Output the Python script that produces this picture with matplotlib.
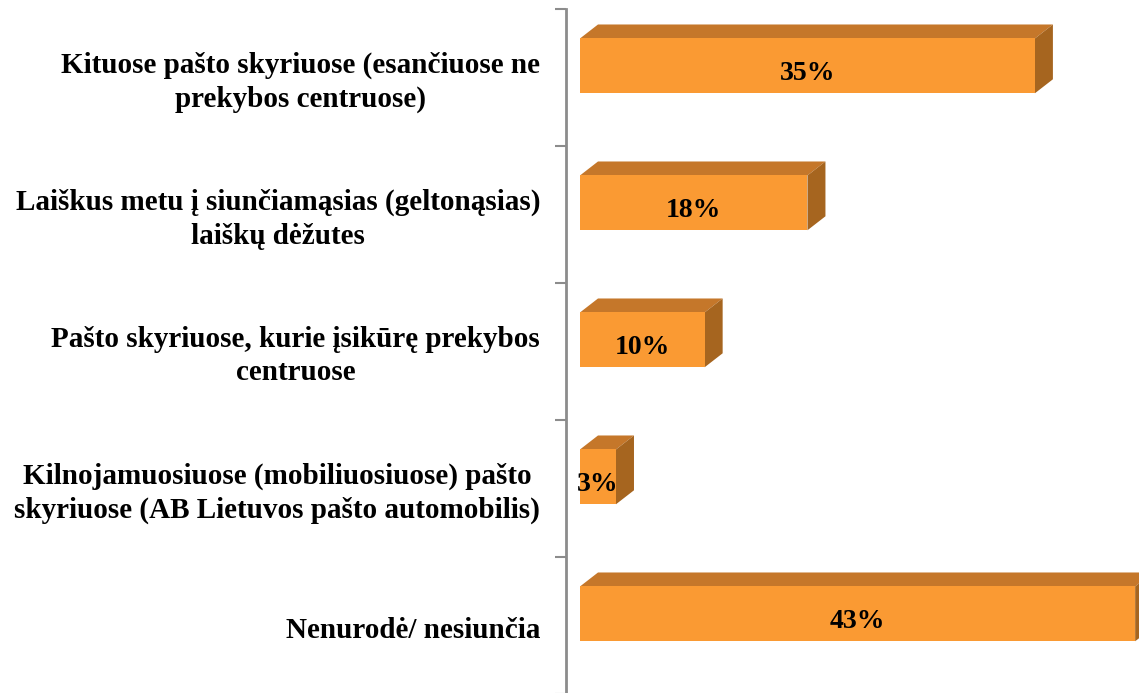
import matplotlib.pyplot as plt
from matplotlib.patches import Polygon
import matplotlib.transforms as mtransforms

# Duomenys
labels = [
    "Kituose pašto skyriuose (esančiuose ne\nprekybos centruose)",
    "Laiškus metu į siunčiamąsias (geltonąsias)\nlaiškų dėžutes",
    "Pašto skyriuose, kurie įsikūrę prekybos\ncentruose",
    "Kilnojamuosiuose (mobiliuosiuose) pašto\nskyriuose (AB Lietuvos pašto automobilis)",
    "Nenurodė/ nesiunčia",
]
values = [35.4, 17.7, 9.7, 2.8, 43.2]
value_labels = ["35%", "18%", "10%", "3%", "43%"]

front_color = "#FA9A33"
top_color = "#C5772A"
side_color = "#A6651F"

fig = plt.figure(figsize=(11.39, 6.93), dpi=100)
ax = fig.add_axes([566 / 1139, -1 / 693, 573 / 1139, 685 / 693])

# 3D gylis (duomenų vienetais)
dx = 1.4
dy = 0.102
h = 0.40

for i, v in enumerate(values):
    yc = i + 0.415
    top = yc - h / 2
    bot = yc + h / 2
    ax.barh(yc, v, height=h, left=0, color=front_color, edgecolor="none", zorder=3)
    ax.add_patch(Polygon([(0, top), (v, top), (v + dx, top - dy), (dx, top - dy)],
                         closed=True, facecolor=top_color, edgecolor="none", zorder=2))
    ax.add_patch(Polygon([(v, top), (v + dx, top - dy), (v + dx, bot - dy), (v, bot)],
                         closed=True, facecolor=side_color, edgecolor="none", zorder=2))
    ax.text(v / 2, yc + 0.055, value_labels[i], ha="center", va="center",
            fontsize=20, fontweight="bold", family="Liberation Serif", zorder=4)

trans = mtransforms.blended_transform_factory(ax.transAxes, ax.transData)
for i, lab in enumerate(labels):
    ax.text(-0.045, i + 0.535, lab, transform=trans, ha="right", va="center",
            multialignment="center", fontsize=21, fontweight="bold",
            family="Liberation Serif", linespacing=1.3)

ax.set_xlim(-1.09, 43.5)
ax.set_ylim(5, 0)
ax.set_yticks(range(6))
ax.set_yticklabels([])
ax.set_xticks([])
ax.tick_params(axis="y", direction="out", length=8, width=1.5, color="#8C8C8C")
for s in ["top", "right", "bottom"]:
    ax.spines[s].set_visible(False)
ax.spines["left"].set_color("#8C8C8C")
ax.spines["left"].set_linewidth(2)
ax.patch.set_alpha(0)

fig.savefig("out.png", dpi=100)
